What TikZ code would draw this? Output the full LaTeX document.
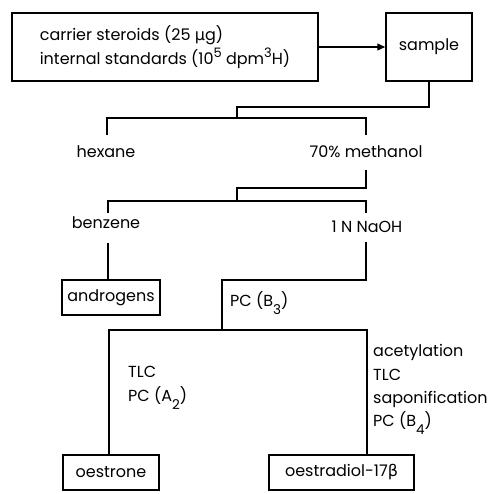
\documentclass[tikz,border=0pt]{standalone}
\usepackage{fontspec}
\setmainfont{Poppins}
\newfontfamily\grk{DejaVu Sans}
\usetikzlibrary{arrows.meta}
\newcommand{\mysup}[1]{\raisebox{0.42em}{\fontsize{13}{12}\selectfont #1}}
\newcommand{\mysub}[1]{\raisebox{-0.55em}{\fontsize{13.5}{12}\selectfont #1}}
\begin{document}
\begin{tikzpicture}[x=1pt,y=-1pt,
  lbl/.style={font=\fontsize{16}{24}\selectfont, inner sep=0pt},
  boxnode/.style={draw, line width=1.5pt, font=\fontsize{16}{24}\selectfont, inner sep=0pt},
  conn/.style={line width=1.3pt}]
\useasboundingbox (0,0) rectangle (500,493);
% boxes
\node[boxnode, minimum width=306pt, minimum height=68pt, align=left] (carrier) at (165,47)
  {carrier steroids (25 {\grk μ}g)\\internal standards (10\mysup{5} dpm\mysup{3}H)};
\node[boxnode, minimum width=86pt, minimum height=68pt] (sample) at (429,47) {sample};
\node[boxnode, minimum width=98pt, minimum height=35pt] (androgens) at (111,297.5) {androgens};
\node[boxnode, minimum width=96pt, minimum height=35pt] (oestrone) at (111,472.5) {oestrone};
\node[boxnode, minimum width=145pt, minimum height=35pt] (oestradiol) at (341.5,472.5) {oestradiol-17{\grk β}};
% labels
\node[lbl, anchor=base] (hexane) at (106,157) {hexane};
\node[lbl, anchor=base] (methanol) at (366,157) {70\% methanol};
\node[lbl, anchor=base] (benzene) at (106,228) {benzene};
\node[lbl, anchor=base] (naoh) at (367,232) {1 N NaOH};
\node[lbl, anchor=base west] (pcb3) at (230,306) {PC (B\mysub{3})};
\node[lbl, anchor=base west] (tlcl) at (128,377) {TLC};
\node[lbl, anchor=base west] (pca2) at (128,401) {PC (A\mysub{2})};
\node[lbl, anchor=base west] (acet) at (373,356) {acetylation};
\node[lbl, anchor=base west] (tlcr) at (373,380) {TLC};
\node[lbl, anchor=base west] (sapon) at (373,403) {saponification};
\node[lbl, anchor=base west] (pcb4) at (373,426) {PC (B\mysub{4})};
% coordinates
\coordinate (j1a) at (237,107);
\coordinate (j1) at (237,118);
\coordinate (hx) at (107,135);
\coordinate (me) at (366,135);
\coordinate (me2) at (366,170);
\coordinate (j2a) at (237,188);
\coordinate (j2) at (237,201);
\coordinate (bz) at (108,213);
\coordinate (na) at (366,213);
\coordinate (bz2) at (108,243);
\coordinate (na2) at (366,242);
\coordinate (j3a) at (222,280);
\coordinate (j3) at (222,330);
\coordinate (lt) at (109,330);
\coordinate (rt) at (367,330);
% connectors
\draw[conn, -{Triangle[length=8pt,width=7pt]}] (carrier.east) -- (sample.west);
\draw[conn] (sample.south) |- (j1a) -- (j1);
\draw[conn] (hx) |- (j1) -| (me);
\draw[conn] (me2) |- (j2a) -- (j2);
\draw[conn] (bz) |- (j2) -| (na);
\draw[conn] (bz2) -- (bz2 |- androgens.north);
\draw[conn] (na2) |- (j3a) -- (j3);
\draw[conn] (lt |- oestrone.north) |- (j3) -| (rt |- oestradiol.north);
\end{tikzpicture}
\end{document}
